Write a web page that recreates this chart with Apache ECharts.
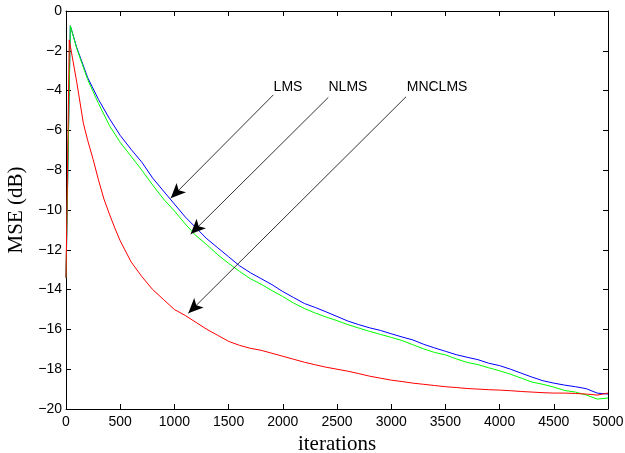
<!DOCTYPE html>
<html>
<head>
<meta charset="utf-8">
<script src="https://cdn.jsdelivr.net/npm/echarts@6/dist/echarts.min.js"></script>
<style>html,body{margin:0;padding:0;background:#fff}#c{width:625px;height:453px}</style>
</head>
<body>
<div id="c"></div>
<script>
// ---- data ----
var xTicks = [0, 500, 1000, 1500, 2000, 2500, 3000, 3500, 4000, 4500, 5000];
var yTicks = [0, -2, -4, -6, -8, -10, -12, -14, -16, -18, -20];

var lms = [[0,-13.4],[40,-0.74],[100,-1.85],[200,-3.35],[300,-4.45],[400,-5.4],[500,-6.25],[600,-6.95],[700,-7.6],[800,-8.4],[900,-9.05],[1000,-9.7],[1100,-10.35],[1200,-10.9],[1300,-11.45],[1400,-11.9],[1500,-12.35],[1600,-12.8],[1700,-13.15],[1800,-13.45],[1900,-13.75],[2000,-14.1],[2100,-14.4],[2200,-14.7],[2300,-14.9],[2400,-15.12],[2500,-15.35],[2600,-15.58],[2700,-15.76],[2800,-15.92],[2900,-16.05],[3000,-16.22],[3100,-16.38],[3200,-16.53],[3300,-16.75],[3400,-16.93],[3500,-17.1],[3600,-17.27],[3700,-17.4],[3800,-17.52],[3900,-17.7],[4000,-17.82],[4100,-18.0],[4200,-18.2],[4300,-18.4],[4400,-18.58],[4500,-18.7],[4600,-18.8],[4700,-18.88],[4800,-18.98],[4900,-19.2],[5000,-19.25]];

var nlms = [[0,-13.4],[40,-0.74],[100,-1.9],[200,-3.45],[300,-4.65],[400,-5.75],[500,-6.6],[600,-7.3],[700,-8.0],[800,-8.75],[900,-9.45],[1000,-10.05],[1100,-10.7],[1200,-11.3],[1300,-11.75],[1400,-12.25],[1500,-12.68],[1600,-13.08],[1700,-13.45],[1800,-13.73],[1900,-14.05],[2000,-14.35],[2100,-14.68],[2200,-14.95],[2300,-15.18],[2400,-15.38],[2500,-15.56],[2600,-15.76],[2700,-15.93],[2800,-16.1],[2900,-16.25],[3000,-16.4],[3100,-16.56],[3200,-16.77],[3300,-16.98],[3400,-17.16],[3500,-17.28],[3600,-17.48],[3700,-17.66],[3800,-17.77],[3900,-17.93],[4000,-18.08],[4100,-18.25],[4200,-18.45],[4300,-18.65],[4400,-18.76],[4500,-18.9],[4600,-19.07],[4700,-19.15],[4800,-19.3],[4900,-19.5],[5000,-19.45]];

var mnclms = [[0,-13.4],[30,-1.45],[100,-3.6],[160,-5.64],[200,-6.5],[250,-7.45],[300,-8.5],[350,-9.45],[400,-10.2],[450,-10.9],[500,-11.55],[600,-12.6],[700,-13.35],[800,-14.0],[900,-14.5],[1000,-15.0],[1100,-15.3],[1200,-15.65],[1300,-16.0],[1400,-16.3],[1500,-16.6],[1600,-16.8],[1700,-16.95],[1800,-17.05],[1900,-17.2],[2000,-17.35],[2100,-17.5],[2200,-17.65],[2300,-17.78],[2400,-17.9],[2500,-18.0],[2600,-18.1],[2700,-18.22],[2800,-18.35],[2900,-18.45],[3000,-18.55],[3100,-18.62],[3200,-18.7],[3300,-18.76],[3400,-18.82],[3500,-18.88],[3600,-18.92],[3700,-18.97],[3800,-19.0],[3900,-19.03],[4000,-19.05],[4100,-19.08],[4200,-19.12],[4300,-19.15],[4400,-19.18],[4500,-19.2],[4600,-19.2],[4700,-19.22],[4800,-19.25],[4900,-19.3],[5000,-19.2]];

// annotation texts (data coords of text centre)
var annoLabels = [[2048, -3.84, 'LMS'], [2601, -3.84, 'NLMS'], [3423, -3.84, 'MNCLMS']];
// arrows: [from, to] in data coords
var annoArrows = [
  [[1912, -4.22], [966, -9.41]],
  [[2420, -4.34], [1150, -11.21]],
  [[3137, -4.31], [1128, -15.19]]
];

var chart = echarts.init(document.getElementById('c'), null, {renderer: 'canvas'});
var tickFont = {color: '#000', fontFamily: 'Liberation Sans, Arial, sans-serif', fontSize: 14};

function xAx(pos, show) {
  return {
    type: 'value', position: pos, min: 0, max: 5000, interval: 500,
    axisLine: {show: true, onZero: false, lineStyle: {color: '#000', width: 1}},
    axisTick: {show: true, inside: true, length: 5, lineStyle: {color: '#000'}},
    axisLabel: Object.assign({show: show, margin: 6, formatter: function (v) { return String(v); }}, tickFont),
    splitLine: {show: false},
    name: show ? 'iterations' : '',
    nameLocation: 'middle', nameGap: 22,
    nameTextStyle: {fontFamily: 'Liberation Serif, Times New Roman, serif', fontSize: 21, color: '#000'}
  };
}
function yAx(pos, show) {
  return {
    type: 'value', position: pos, min: -20, max: 0, interval: 2,
    axisLine: {show: true, onZero: false, lineStyle: {color: '#000', width: 1}},
    axisTick: {show: true, inside: true, length: 5, lineStyle: {color: '#000'}},
    axisLabel: Object.assign({show: show, margin: 4, formatter: function (v) { return v < 0 ? '\u2212' + Math.abs(v) : String(v); }}, tickFont),
    splitLine: {show: false},
    name: show ? 'MSE (dB)' : '',
    nameLocation: 'middle', nameGap: 36, nameRotate: 90,
    nameTextStyle: {fontFamily: 'Liberation Serif, Times New Roman, serif', fontSize: 21, color: '#000'}
  };
}

function lineSeries(name, data, color) {
  return {
    name: name, type: 'line', data: data, showSymbol: false, symbol: 'none',
    lineStyle: {color: color, width: 1}, itemStyle: {color: color}, silent: true
  };
}

var arrowData = annoArrows.map(function (a) {
  return [{coord: a[0]}, {coord: a[1]}];
});

var option = {
  animation: false,
  backgroundColor: '#fff',
  grid: {left: 66, right: 17, top: 11, bottom: 44, outerBoundsMode: 'none'},
  xAxis: [xAx('bottom', true), xAx('top', false)],
  yAxis: [yAx('left', true), yAx('right', false)],
  series: [
    lineSeries('LMS', lms, '#0000ff'),
    lineSeries('NLMS', nlms, '#00ff00'),
    lineSeries('MNCLMS', mnclms, '#ff0000'),
    {
      type: 'scatter', data: annoLabels, symbolSize: 0, silent: true,
      label: {show: true, position: 'inside', formatter: function (p) { return p.data[2]; },
        color: '#000', opacity: 1, fontFamily: 'Liberation Sans, Arial, sans-serif', fontSize: 14},
      markLine: {
        silent: true, symbol: ['none', 'arrow'], symbolSize: [10, 15],
        lineStyle: {color: '#000', width: 0.8, type: 'solid'},
        itemStyle: {color: '#000'},
        label: {show: false},
        data: arrowData
      }
    }
  ]
};
chart.setOption(option);
</script>
</body>
</html>
